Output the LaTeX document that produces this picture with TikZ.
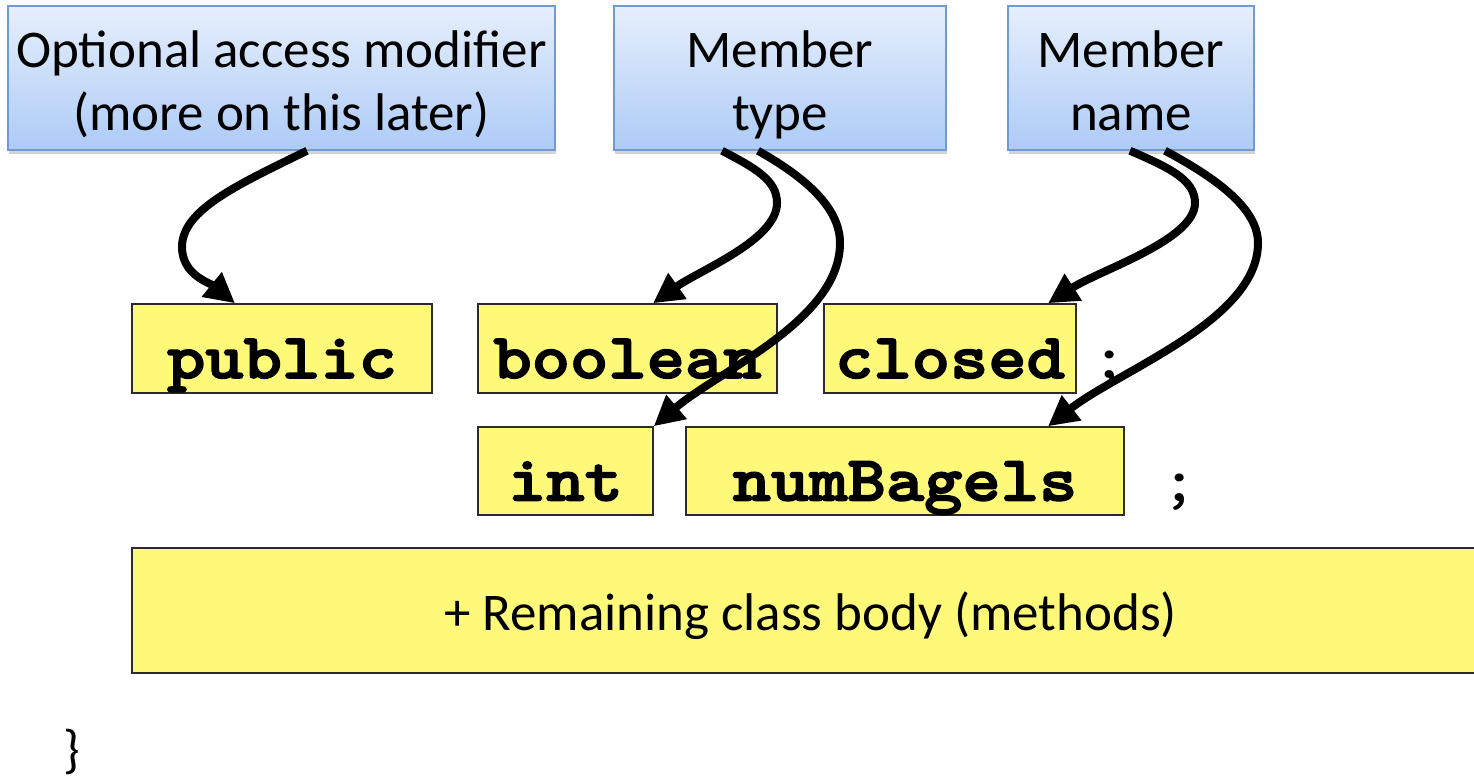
\documentclass[tikz,border=0pt]{standalone}
\usepackage{fontspec}
\setmainfont{Carlito}
\newfontfamily\codefont[FakeStretch=1.14,FakeBold=2.5]{lmmonolt10-bold.otf}
\newfontfamily\plaincode[FakeStretch=1.14]{lmmono10-regular.otf}
\usetikzlibrary{arrows.meta,shadows}

\definecolor{noteTop}{HTML}{E6EFFC}
\definecolor{noteBot}{HTML}{ADCBF7}
\definecolor{noteEdge}{HTML}{6F9AD2}
\definecolor{codeFill}{HTML}{FFF97A}
\definecolor{codeEdge}{HTML}{2B2B2B}

\begin{document}
\begin{tikzpicture}[x=1pt,y=-1pt,
  note/.style={draw=noteEdge, line width=1.5pt, top color=noteTop, bottom color=noteBot,
    minimum height=144pt, inner sep=0pt,
    drop shadow={shadow xshift=1pt, shadow yshift=-4pt, opacity=0.35}},
  notetext/.style={inner sep=0pt, anchor=base, font=\fontsize{53}{62}\selectfont},
  codebox/.style={draw=codeEdge, line width=1.5pt, fill=codeFill, minimum height=89pt,
    inner sep=0pt, text height=59pt, text depth=0pt,
    font=\codefont\fontsize{64}{64}\selectfont},
  semi/.style={inner sep=0pt, anchor=base, font=\plaincode\fontsize{64}{64}\selectfont},
  pointer/.style={line width=8pt, -{Triangle[length=30pt,width=30pt]}},
]
\useasboundingbox (0,0) rectangle (1474,779);

% labels along the top
\node[note, minimum width=547pt] (acc)  at (281.5,78) {};
\node[note, minimum width=332pt] (type) at (780,78)   {};
\node[note, minimum width=246pt] (name) at (1131,78)  {};
\node[notetext] (accA)  at (281.5,67) {Optional access modifier};
\node[notetext] (accB)  at (281.5,130) {(more on this later)};
\node[notetext] (typeA) at (780,67)  {Member};
\node[notetext] (typeB) at (780,130) {type};
\node[notetext] (nameA) at (1131,67)  {Member};
\node[notetext] (nameB) at (1131,130) {name};

% field declarations
\node[codebox, minimum width=300pt] (pub)  at (282,348.5)   {public};
\node[codebox, minimum width=299pt] (bool) at (627.5,348.5) {boolean};
\node[codebox, minimum width=252pt] (clo)  at (950,348.5)   {closed};
\node[semi] (semiA) at (1110,378) {;};

\node[codebox, minimum width=175pt, minimum height=88pt] (int) at (565.5,471) {int};
\node[codebox, minimum width=438pt, minimum height=88pt] (num) at (905,471)   {numBagels};
\node[semi] (semiB) at (1180,501) {;};

% rest of the class
\node[draw=codeEdge, line width=1.5pt, fill=codeFill, minimum width=1348pt, minimum height=125pt,
  inner sep=0pt] (body) at (806,610.5) {};
\node[notetext] (bodytext) at (810.5,630) {+ Remaining class body (methods)};
\node[notetext] (brace) at (72,767) {\}};

% pointers
\draw[pointer] ([xshift=25.5pt]acc.south)
  .. controls (237,185) and (182,210) .. (182,247)
  .. controls (182,275) and (210,283) .. ([xshift=-47pt]pub.north);
\draw[pointer] ([xshift=-58pt]type.south)
  .. controls (755,168) and (777,180) .. (777,203)
  .. controls (777,240) and (700,270) .. ([xshift=25.5pt]bool.north);
\draw[pointer] ([xshift=-22pt]type.south)
  .. controls (810,180) and (840,210) .. (840,243)
  .. controls (840,320) and (720,370) .. (int.north east);
\draw[pointer] ([xshift=-1pt]name.south)
  .. controls (1170,168) and (1195,180) .. (1195,203)
  .. controls (1195,240) and (1100,270) .. ([xshift=98pt]clo.north);
\draw[pointer] ([xshift=34pt]name.south)
  .. controls (1220,180) and (1258,210) .. (1258,243)
  .. controls (1258,320) and (1120,370) .. ([xshift=143pt]num.north);
\end{tikzpicture}
\end{document}
